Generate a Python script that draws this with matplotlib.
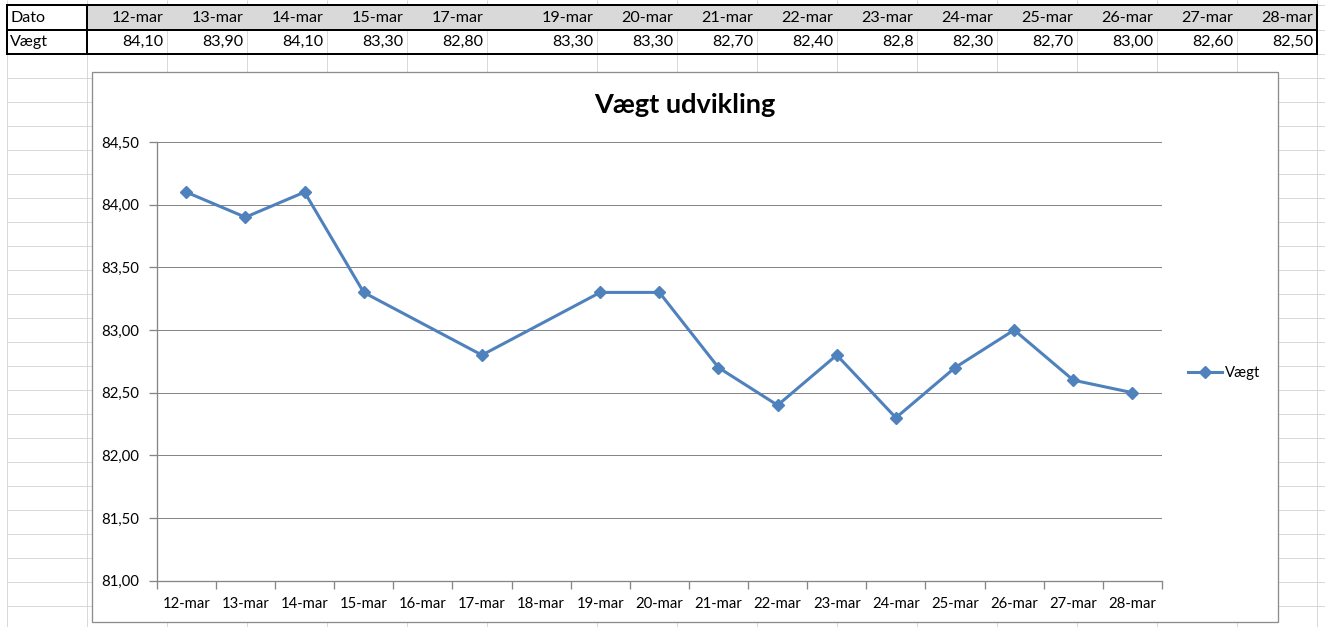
import matplotlib
matplotlib.use("Agg")
import matplotlib.pyplot as plt
from matplotlib.patches import Rectangle
from matplotlib.ticker import FixedLocator, FuncFormatter, NullFormatter

# ---------------- data ----------------
row_labels = ["Dato", "Vægt"]
table_dates = ["12-mar", "13-mar", "14-mar", "15-mar", "17-mar", "19-mar", "20-mar",
               "21-mar", "22-mar", "23-mar", "24-mar", "25-mar", "26-mar", "27-mar", "28-mar"]
table_values = ["84,10", "83,90", "84,10", "83,30", "82,80", "83,30", "83,30",
                "82,70", "82,40", "82,8", "82,30", "82,70", "83,00", "82,60", "82,50"]
days = [12, 13, 14, 15, 17, 19, 20, 21, 22, 23, 24, 25, 26, 27, 28]
axis_days = list(range(12, 29))
y_ticks = [81.0, 81.5, 82.0, 82.5, 83.0, 83.5, 84.0, 84.5]
series_name = "Vægt"
chart_title = "Vægt udvikling"
month_suffix = "-mar"

weights = [float(s.replace(",", ".")) for s in table_values]

plt.rcParams["font.family"] = ["Lato", "DejaVu Sans"]

W, H = 1325, 627
fig = plt.figure(figsize=(W / 100, H / 100), dpi=100)
fig.patch.set_facecolor("white")

# background "sheet" axes in pixel coordinates
bg = fig.add_axes([0, 0, 1, 1])
bg.set_xlim(0, W)
bg.set_ylim(H, 0)
bg.axis("off")

px = 0.72  # 1 pixel in points
grid_c = "#d9d9d9"

col_right = [167, 247, 327, 407, 487, 597, 677, 757, 837, 917, 997, 1077, 1157, 1237, 1317]
sheet_vlines = [7, 87] + col_right
sheet_hlines = [5, 29.5, 54] + [78 + 24 * i for i in range(23)]

for x in sheet_vlines:
    bg.plot([x, x], [0, H], color=grid_c, lw=px, zorder=1, solid_capstyle="butt")
for y in sheet_hlines:
    bg.plot([7, W], [y, y], color=grid_c, lw=px, zorder=1, solid_capstyle="butt")

# table header fill
bg.add_patch(Rectangle((87, 5), 1317 - 87, 24.5, facecolor="#d9d9d9", edgecolor="none", zorder=2))
# table borders
lw_thick = 2 * px
bg.add_patch(Rectangle((7, 5), 1317 - 7, 49, facecolor="none", edgecolor="black", lw=lw_thick, zorder=4))
bg.plot([7, 1317], [29.5, 29.5], color="black", lw=lw_thick, zorder=4)
bg.plot([87, 87], [5, 54], color="black", lw=lw_thick, zorder=4)

tfs = 11.6
bg.text(10, 17.5, row_labels[0], fontsize=tfs, ha="left", va="center", zorder=5)
bg.text(10, 42, row_labels[1], fontsize=tfs, ha="left", va="center", zorder=5)
for r, d, v in zip(col_right, table_dates, table_values):
    bg.text(r - 3.5, 17.5, d, fontsize=tfs, ha="right", va="center", zorder=5)
    bg.text(r - 3.5, 42, v, fontsize=tfs, ha="right", va="center", zorder=5)

# chart frame
bg.add_patch(Rectangle((92, 72), 1278 - 92, 622 - 72, facecolor="white",
                       edgecolor="#8c8c8c", lw=1.3 * px, zorder=3))

bg.text(685, 105, chart_title, fontsize=19.5, fontweight="bold", ha="center", va="center", zorder=5)

# plot axes
x0, x1 = 156.7, 1162
y0, y1 = 142, 580.7
ax = fig.add_axes([x0 / W, 1 - y1 / H, (x1 - x0) / W, (y1 - y0) / H])
ax.set_facecolor("none")
ax.set_zorder(6)

blue = "#4f81bd"
ax.plot(days, weights, color=blue, lw=2.2, marker="D", markersize=5.8,
        markerfacecolor=blue, markeredgecolor=blue, label=series_name, zorder=3)

ax.set_xlim(axis_days[0] - 0.5, axis_days[-1] + 0.5)
ax.set_ylim(y_ticks[0], y_ticks[-1])

axis_c = "#868686"
for s in ["top", "right"]:
    ax.spines[s].set_visible(False)
for s in ["left", "bottom"]:
    ax.spines[s].set_color(axis_c)
    ax.spines[s].set_linewidth(1.3 * px)

ax.set_yticks(y_ticks)
ax.yaxis.set_major_formatter(FuncFormatter(lambda v, p: f"{v:.2f}".replace(".", ",")))
ax.yaxis.grid(True, color=axis_c, lw=1.0 * px)
ax.set_axisbelow(True)
ax.tick_params(axis="y", length=6 * px * 1.35, width=1.3 * px, color=axis_c,
               labelsize=10.7, pad=7, labelcolor="black")

ax.xaxis.set_major_locator(FixedLocator(axis_days))
ax.set_xticklabels([f"{d}{month_suffix}" for d in axis_days])
ax.xaxis.set_minor_locator(FixedLocator([d - 0.5 for d in axis_days] + [axis_days[-1] + 0.5]))
ax.xaxis.set_minor_formatter(NullFormatter())
ax.tick_params(axis="x", which="major", length=0, labelsize=10.7, pad=12, labelcolor="black")
ax.tick_params(axis="x", which="minor", length=6 * px * 1.35, width=1.3 * px, color=axis_c)

leg = ax.legend(loc="center left", bbox_to_anchor=(1188 / W, 1 - 373 / H),
                bbox_transform=fig.transFigure, frameon=False, fontsize=10.7,
                handlelength=2.3, handletextpad=0.2, borderpad=0, borderaxespad=0)

fig.savefig("out.png", dpi=100, facecolor="white")
